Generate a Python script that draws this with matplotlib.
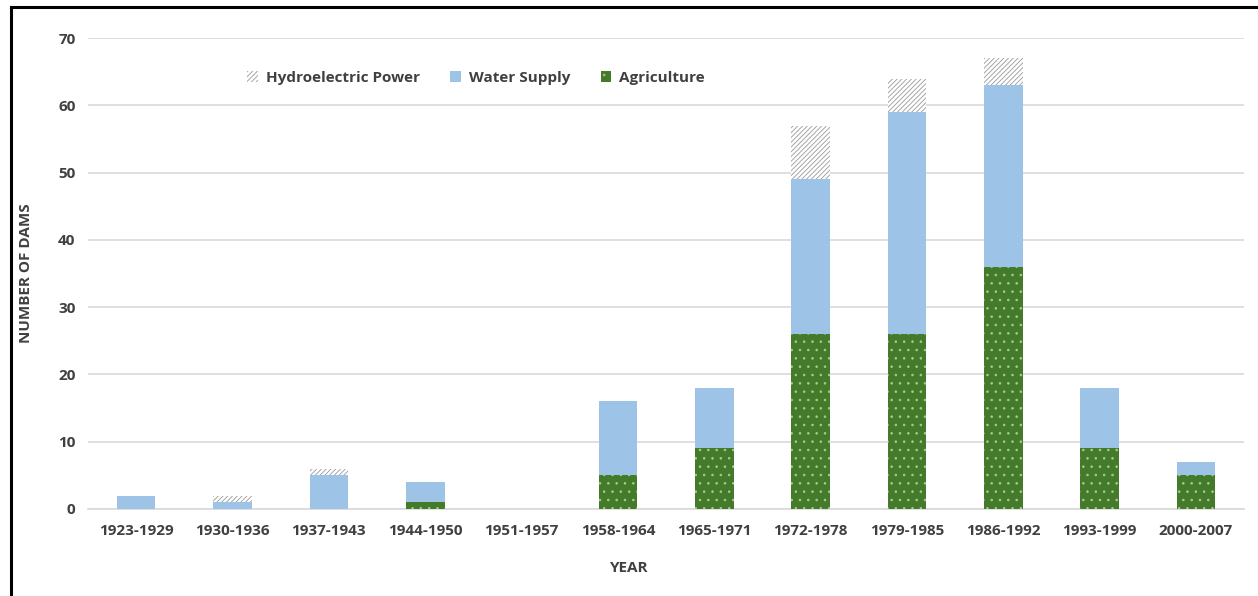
import matplotlib
matplotlib.use("Agg")
import matplotlib.pyplot as plt
import numpy as np
from matplotlib.lines import Line2D

periods = ["1923-1929", "1930-1936", "1937-1943", "1944-1950", "1951-1957", "1958-1964",
           "1965-1971", "1972-1978", "1979-1985", "1986-1992", "1993-1999", "2000-2007"]
agriculture = [0, 0, 0, 1, 0, 5, 9, 26, 26, 36, 9, 5]
water_supply = [2, 1, 5, 3, 0, 11, 9, 23, 33, 27, 9, 2]
hydro_power = [0, 1, 1, 0, 0, 0, 0, 8, 5, 4, 0, 0]
yticks = [0, 10, 20, 30, 40, 50, 60, 70]

plt.rcParams['font.family'] = ['Open Sans', 'DejaVu Sans']
plt.rcParams['hatch.linewidth'] = 0.6

fig = plt.figure(figsize=(12.58, 5.96), dpi=100)
ax = fig.add_axes([0.07, 0.146, 0.919, 0.79])

x = np.arange(len(periods))
agri = np.array(agriculture)
water = np.array(water_supply)
hydro = np.array(hydro_power)

green = '#447B2A'
blue = '#9DC3E6'
txt = '#404040'

b1 = ax.bar(x, agri, width=0.4, color=green, edgecolor='#A9C996', linewidth=0,
            hatch='..', label='Agriculture', zorder=3)
b2 = ax.bar(x, water, width=0.4, bottom=agri, color=blue, linewidth=0,
            label='Water Supply', zorder=3)
b3 = ax.bar(x, hydro, width=0.4, bottom=agri + water, color='white', edgecolor='#999999',
            linewidth=0, hatch='///////', label='Hydroelectric Power', zorder=3)

ax.set_xlim(-0.5, len(periods) - 0.5)
ax.set_ylim(0, 70)
ax.set_yticks(yticks)
ax.set_yticklabels([str(v) for v in yticks], fontsize=11, fontweight='bold', color=txt)
ax.set_xticks(x)
ax.set_xticklabels(periods, fontsize=11, fontweight='bold', color=txt)
ax.tick_params(axis='x', length=0, pad=11)
ax.tick_params(axis='y', length=0, pad=9)
ax.yaxis.grid(True, color='#D9D9D9', linewidth=1.2, zorder=0)
ax.set_axisbelow(True)
for s in ['top', 'right', 'left']:
    ax.spines[s].set_visible(False)
ax.spines['bottom'].set_color('#D9D9D9')
ax.spines['bottom'].set_linewidth(1.2)

ax.set_xlabel('YEAR', fontsize=11, fontweight='bold', color=txt)
ax.xaxis.set_label_coords(0.4685, -0.11)
ax.set_ylabel('NUMBER OF DAMS', fontsize=11, fontweight='bold', color=txt)
ax.yaxis.set_label_coords(-0.0475, 0.5)

leg = ax.legend(handles=[b3, b2, b1], loc='upper left', bbox_to_anchor=(0.126, 0.96), ncol=3,
                frameon=False, handlelength=0.7, handleheight=0.7,
                columnspacing=2.0, handletextpad=0.5, prop={'weight': 'bold', 'size': 11})
for t in leg.get_texts():
    t.set_color(txt)

# outer frame (top and left edges visible)
fig.add_artist(Line2D([0.0085, 0.0085], [0.0, 0.988], transform=fig.transFigure,
                      color='black', linewidth=2.2))
fig.add_artist(Line2D([0.0085, 1.0], [0.988, 0.988], transform=fig.transFigure,
                      color='black', linewidth=2.2))

fig.savefig('out.png', dpi=100)
